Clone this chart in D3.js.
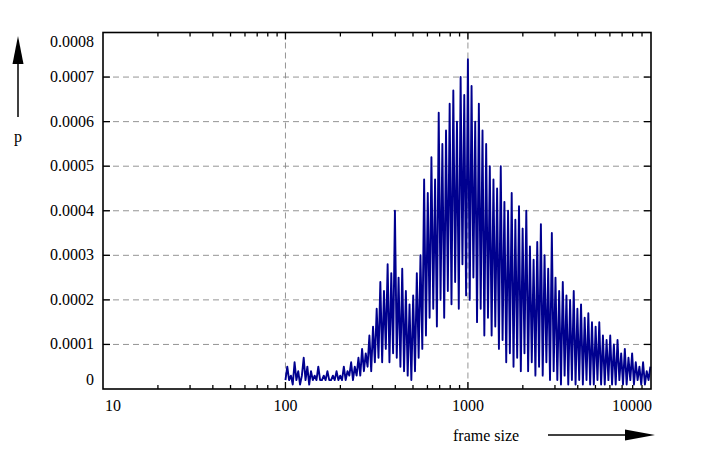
<!DOCTYPE html>
<html><head><meta charset="utf-8">
<script src="https://cdn.jsdelivr.net/npm/d3@7"></script>
<style>body{margin:0;background:#fff} svg text{font-family:'Liberation Serif','DejaVu Serif','Times New Roman',serif !important;}</style>
</head><body><svg id="c" width="702" height="455"></svg>
<script>
const xTicks=[10,100,1000,10000];
const xTickLabels=["10","100","1000","10000"];
const yTicks=[0,0.0001,0.0002,0.0003,0.0004,0.0005,0.0006,0.0007,0.0008];
const yTickLabels=["0","0.0001","0.0002","0.0003","0.0004","0.0005","0.0006","0.0007","0.0008"];
const binStart=100, binsPerDecade=100;
const pValues=[
.00002,.00005,.00002,.00003,.00001,.00006,.00002,.00004,.00001,.00003,
.00007,.00002,.00005,.00001,.00004,.00002,.00003,.00002,.00005,.00002,
.00002,.00003,.00002,.00004,.00002,.00002,.00003,.00002,.00004,.00002,
.00003,.00002,.00005,.00002,.00004,.00003,.00006,.00002,.00005,.00003,
.00007,.00003,.00009,.00004,.00008,.00005,.00012,.00004,.00014,.00006,
.00018,.00007,.00024,.00006,.00022,.00009,.00028,.00006,.00026,.00008,
.0004,.00007,.00025,.00005,.00027,.00004,.00022,.00003,.00019,.00002,
.00021,.00004,.00026,.00007,.0003,.00009,.00047,.00012,.00044,.00016,
.00052,.00018,.00047,.00014,.00062,.0002,.00055,.00016,.00058,.00022,
.00064,.00019,.00067,.00024,.0006,.00018,.0007,.00028,.00066,.00021,
.00074,.0002,.00068,.00025,.0006,.00015,.00064,.00018,.00058,.00012,
.00055,.00016,.0005,.00012,.00047,.00014,.00045,.00009,.0005,.00011,
.00042,.00006,.0004,.00008,.00044,.00005,.00038,.00007,.00041,.00004,
.00036,.00008,.0004,.00004,.00032,.00006,.00029,.00003,.00033,.00005,
.00037,.00003,.0003,.00006,.00027,.00002,.00035,.00004,.00025,.00002,
.00022,.00001,.00024,.00003,.00021,.00001,.0002,.00002,.00022,.00001,
.00018,.00002,.00019,.00001,.00016,.00002,.00017,.00001,.00015,.00001,
.00014,.00002,.00015,.00001,.00012,.00001,.00011,.00002,.00012,.00001,
.0001,.00001,.00011,.00002,.00008,.00001,.00009,.00001,.00007,.00002,
.00008,.00001,.00006,.00002,.00005,.00001,.00006,.00001,.00004,.00002,
.00005];
const data=pValues.map((p,i)=>({s:binStart*Math.pow(10,i/binsPerDecade),p}));

const L=103,R=651,T=32.5,B=389;
const svg=d3.select("#c");
const x=d3.scaleLog().domain([10,10080]).range([L,R]);
const y=d3.scaleLinear().domain([0,0.0008]).range([B,T]);

const g=svg.append("g").attr("stroke","#888").attr("stroke-dasharray","6,4").attr("stroke-width",0.9);
yTicks.slice(1,-1).forEach(v=>g.append("line").attr("x1",L).attr("x2",R).attr("y1",y(v)).attr("y2",y(v)));
[100,1000].forEach(v=>g.append("line").attr("x1",x(v)).attr("x2",x(v)).attr("y1",T).attr("y2",B));

svg.append("path").datum(data).attr("fill","none").attr("stroke","#00008f").attr("stroke-width",1.9)
 .attr("stroke-linejoin","round").attr("d",d3.line().x(d=>x(d.s)).y(d=>y(d.p)));

const tk=svg.append("g").attr("stroke","#000").attr("stroke-width",1.3);
yTicks.slice(1,-1).forEach(v=>{tk.append("line").attr("x1",L).attr("x2",L+7).attr("y1",y(v)).attr("y2",y(v));
 tk.append("line").attr("x1",R).attr("x2",R-7).attr("y1",y(v)).attr("y2",y(v));});
const minor=[];[10,100,1000].forEach(d=>{for(let k=1;k<10;k++)minor.push(d*k);});minor.push(10000);
minor.forEach(v=>{const len=(xTicks.includes(v))?7:4;const xx=x(v);if(xx<L+1||xx>R-1)return;
 tk.append("line").attr("x1",xx).attr("x2",xx).attr("y1",B).attr("y2",B-len);
 tk.append("line").attr("x1",xx).attr("x2",xx).attr("y1",T).attr("y2",T+len);});
svg.append("rect").attr("x",L).attr("y",T).attr("width",R-L).attr("height",B-T).attr("fill","none").attr("stroke","#000").attr("stroke-width",1.6);

const txt=(xx,yy,t,a)=>svg.append("text").attr("x",xx).attr("y",yy).attr("text-anchor",a||"start")
 .attr("font-size",16).attr("fill","#000").text(t);
yTickLabels.forEach((t,i)=>{let yy=y(yTicks[i])+5;if(i==0)yy-=9;if(i==yTickLabels.length-1)yy+=9;txt(94,yy,t,"end");});
xTickLabels.forEach((t,i)=>{const a=i==0?"start":i==3?"end":"middle";
 txt(i==0?L+2:i==3?R+1:x(xTicks[i]),411,t,a);});

svg.append("line").attr("x1",18).attr("x2",18).attr("y1",117).attr("y2",58).attr("stroke","#000").attr("stroke-width",1.5);
svg.append("path").attr("d","M18,36 L12.5,64 L23.5,64 Z").attr("fill","#000");
txt(18,142,"p","middle");
txt(453,441,"frame size");
svg.append("line").attr("x1",548).attr("x2",630).attr("y1",435).attr("y2",435).attr("stroke","#000").attr("stroke-width",1.5);
svg.append("path").attr("d","M655,435 L625,429.5 L625,440.5 Z").attr("fill","#000");
</script></body></html>
